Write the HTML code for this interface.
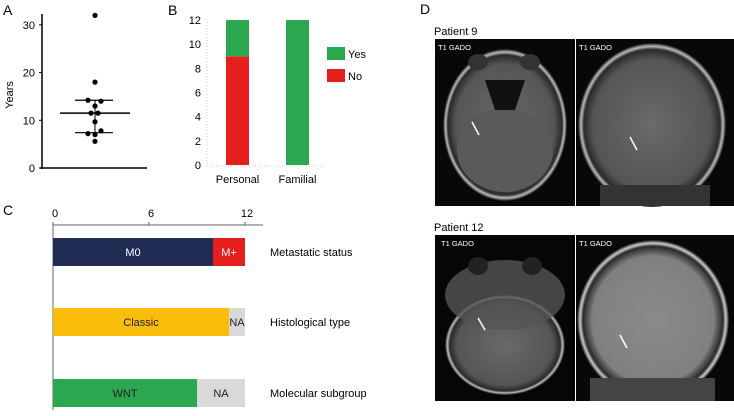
<!DOCTYPE html>
<html><head><meta charset="utf-8"><style>
body{margin:0;background:#fff;font-family:"Liberation Sans",sans-serif;}
svg text{font-family:"Liberation Sans",sans-serif;}
</style></head><body>
<svg width="734" height="411" viewBox="0 0 734 411">
<defs>
<radialGradient id="brain" cx="50%" cy="50%" r="50%"><stop offset="0" stop-color="#6a6a6a"/><stop offset="0.8" stop-color="#555"/><stop offset="0.92" stop-color="#2a2a2a"/><stop offset="0.96" stop-color="#bbb"/><stop offset="1" stop-color="#111"/></radialGradient>
<radialGradient id="brain2" cx="50%" cy="50%" r="50%"><stop offset="0" stop-color="#8a8a8a"/><stop offset="0.8" stop-color="#808080"/><stop offset="0.92" stop-color="#2a2a2a"/><stop offset="0.96" stop-color="#ccc"/><stop offset="1" stop-color="#111"/></radialGradient>
</defs>
<g id="panelA"></g>
<g id="panelB"></g>
<g id="panelC"></g>
<g id="panelD">
<text x="420" y="14" font-size="14">D</text>
<text x="434" y="35" font-size="11">Patient 9</text>
<text x="434" y="231" font-size="11">Patient 12</text>
<g>
<rect x="435" y="39" width="140" height="167" fill="#080808"/>
<ellipse cx="505" cy="125" rx="62" ry="76" fill="url(#brain)"/>
<ellipse cx="505" cy="150" rx="48" ry="42" fill="#5a5a5a"/>
<path d="M485 80 L525 80 L515 110 L495 110 Z" fill="#111"/>
<ellipse cx="478" cy="62" rx="10" ry="8" fill="#333"/><ellipse cx="530" cy="62" rx="10" ry="8" fill="#333"/>
<line x1="472" y1="122" x2="479" y2="135" stroke="#fff" stroke-width="1.5"/>
<text x="438" y="50" font-size="7.5" fill="#fff">T1 GADO</text></g>
<g>
<rect x="576" y="39" width="158" height="167" fill="#080808"/>
<ellipse cx="652" cy="125" rx="74" ry="82" fill="url(#brain)"/>
<rect x="600" y="185" width="110" height="21" fill="#333"/>
<line x1="630" y1="137" x2="637" y2="150" stroke="#fff" stroke-width="1.5"/>
<text x="579" y="50" font-size="7.5" fill="#fff">T1 GADO</text></g>
<g>
<rect x="435" y="235" width="140" height="166" fill="#060606"/>
<ellipse cx="505" cy="345" rx="60" ry="50" fill="url(#brain)"/>
<ellipse cx="505" cy="295" rx="60" ry="35" fill="#555" opacity="0.8"/>
<ellipse cx="478" cy="266" rx="10" ry="9" fill="#222"/><ellipse cx="532" cy="266" rx="10" ry="9" fill="#222"/>
<line x1="478" y1="318" x2="485" y2="330" stroke="#fff" stroke-width="1.5"/>
<text x="441" y="246" font-size="7.5" fill="#fff">T1 GADO</text></g>
<g>
<rect x="576" y="235" width="158" height="166" fill="#080808"/>
<ellipse cx="653" cy="320" rx="76" ry="80" fill="url(#brain2)"/>
<rect x="590" y="378" width="125" height="23" fill="#444"/>
<line x1="620" y1="335" x2="627" y2="348" stroke="#fff" stroke-width="1.5"/>
<text x="579" y="246" font-size="7.5" fill="#fff">T1 GADO</text></g>
</g>
</svg>
<script>
const NS='http://www.w3.org/2000/svg';
function mk(p,t,a,txt){const e=document.createElementNS(NS,t);for(const k in a)e.setAttribute(k,a[k]);if(txt!==undefined)e.textContent=txt;p.appendChild(e);return e;}
// Panel A data
const aValues=[32,18,14.2,14,13,11.5,11.5,9.7,7.8,7.2,7.0,5.6];
const aOffsets=[0,0,-7,6,0,-4,3,0,6,-7,0,0];
const aTicks=[0,10,20,30];
const aMean=[11.5];const aSdLow=[7.4];const aSdHigh=[14.2];
// Panel B data
const bCats=['Personal','Familial'];
const bNo=[9,0];const bYes=[3,12];const bTicks=[0,2,4,6,8,10,12];
// Panel C data
const cCats=['Metastatic status','Histological type','Molecular subgroup'];
const cMain=[10,11,9];const cMainLabels=['M0','Classic','WNT'];
const cRest=[2,1,3];const cRestLabels=['M+','NA','NA'];
const cTicks=[0,6,12];

// A
(function(){const g=document.getElementById('panelA');
const y=v=>168-v*4.77;const cx=95;
let e=mk(g,'text',{x:3,y:15,'font-size':14},'A');
e=mk(g,'line',{x1:42,y1:14,x2:42,y2:169,stroke:'#000','stroke-width':1.5});
e=mk(g,'line',{x1:40,y1:168,x2:147,y2:168,stroke:'#000','stroke-width':1.5});
aTicks.forEach(t=>{mk(g,'line',{x1:39,x2:42,y1:y(t),y2:y(t),stroke:'#000'});
e=mk(g,'text',{x:35,y:y(t)+4,'font-size':11,'text-anchor':'end'},t);});
e=mk(g,'text',{x:13,y:95,'font-size':11,'text-anchor':'middle',transform:'rotate(-90 13 95)'},'Years');
e=mk(g,'line',{x1:60,x2:130,y1:y(aMean[0]),y2:y(aMean[0]),stroke:'#000','stroke-width':1.5});
e=mk(g,'line',{x1:75,x2:113,y1:y(aSdHigh[0]),y2:y(aSdHigh[0]),stroke:'#000','stroke-width':1.2});
e=mk(g,'line',{x1:75,x2:113,y1:y(aSdLow[0]),y2:y(aSdLow[0]),stroke:'#000','stroke-width':1.2});
mk(g,'line',{x1:cx,x2:cx,y1:y(aSdHigh[0]),y2:y(aSdLow[0]),stroke:'#000','stroke-width':1});
aValues.forEach((v,i)=>{e=mk(g,'circle',{cx:cx+aOffsets[i],cy:y(v),r:2.6,fill:'#000'});});
})();
// B
(function(){const g=document.getElementById('panelB');
const y=v=>165-v*12.08;const xs=[237.5,297.5];
let e=mk(g,'text',{x:168,y:15,'font-size':14},'B');
e=mk(g,'line',{x1:207,y1:19,x2:207,y2:166,stroke:'#ccc','stroke-dasharray':'1 2'});
mk(g,'line',{x1:207,y1:166,x2:325,y2:166,stroke:'#ccc','stroke-dasharray':'1 2'});
bTicks.forEach(t=>{e=mk(g,'text',{x:201,y:y(t)+4,'font-size':11,'text-anchor':'end'},t);});
bCats.forEach((c,i)=>{
e=mk(g,'rect',{x:xs[i]-11.5,y:y(bNo[i]),width:23,height:bNo[i]*12.08,fill:'#e41f1d'});
e=mk(g,'rect',{x:xs[i]-11.5,y:y(bNo[i]+bYes[i]),width:23,height:bYes[i]*12.08,fill:'#2ba84f'});
e=mk(g,'text',{x:xs[i],y:183,'font-size':11,'text-anchor':'middle'},c);});
e=mk(g,'rect',{x:327,y:47,width:18,height:13,fill:'#2ba84f'});
e=mk(g,'text',{x:348,y:58,'font-size':11},'Yes');
e=mk(g,'rect',{x:327,y:69,width:18,height:13,fill:'#e41f1d'});
e=mk(g,'text',{x:348,y:80,'font-size':11},'No');
})();
// C
(function(){const g=document.getElementById('panelC');
const x=v=>53+v*16;const ys=[238,308,379];
let e=mk(g,'text',{x:3,y:215,'font-size':14},'C');
e=mk(g,'line',{x1:53,y1:225,x2:263,y2:225,stroke:'#666'});
mk(g,'line',{x1:53,y1:222,x2:53,y2:410,stroke:'#666'});
cTicks.forEach(t=>{mk(g,'line',{x1:x(t),x2:x(t),y1:222,y2:225,stroke:'#666'});
e=mk(g,'text',{x:x(t)+2,y:217,'font-size':11,'text-anchor':'middle'},t);});
const mainCols=['#212c54','#fbbd0c','#2ba84f'];const restCols=['#e41f1d','#d9d9d9','#d9d9d9'];const mainText=['#fff','#222','#222'];
cCats.forEach((c,i)=>{
e=mk(g,'rect',{x:x(0),y:ys[i],width:cMain[i]*16,height:28,fill:mainCols[i]});
e=mk(g,'rect',{x:x(cMain[i]),y:ys[i],width:cRest[i]*16,height:28,fill:restCols[i]});
e=mk(g,'text',{x:(x(0)+x(cMain[i]))/2,y:ys[i]+18,'font-size':11,'text-anchor':'middle',fill:mainText[i]},cMainLabels[i]);
e=mk(g,'text',{x:(x(cMain[i])+x(cMain[i]+cRest[i]))/2,y:ys[i]+18,'font-size':11,'text-anchor':'middle',fill:i==0?'#fff':'#222'},cRestLabels[i]);
e=mk(g,'text',{x:270,y:ys[i]+18,'font-size':11},c);});
})();
</script>
</body></html>
